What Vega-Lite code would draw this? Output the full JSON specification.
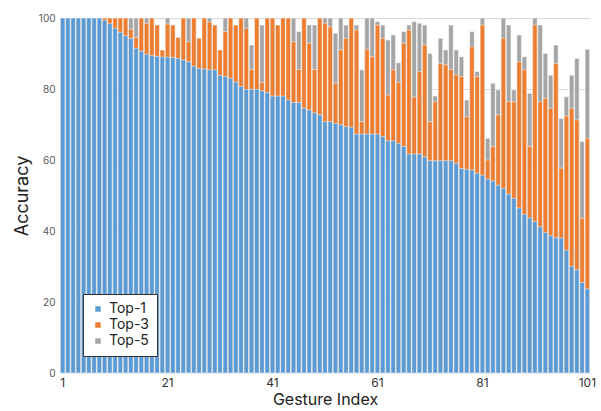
{
  "$schema": "https://vega.github.io/schema/vega-lite/v6.json",
  "width": 530,
  "height": 355,
  "autosize": {"type": "none"},
  "padding": {"left": 60, "top": 18, "right": 11, "bottom": 38},
  "background": "white",
  "config": {
    "font": "Inter",
    "view": {"stroke": null}
  },
  "datasets": {
    "top1": [
      {"g":1,"a":100},{"g":2,"a":100},{"g":3,"a":100},{"g":4,"a":100},{"g":5,"a":100},{"g":6,"a":100},{"g":7,"a":100},{"g":8,"a":100},
      {"g":9,"a":99.4},{"g":10,"a":98.4},{"g":11,"a":97.1},{"g":12,"a":96},{"g":13,"a":95},{"g":14,"a":94.2},{"g":15,"a":91.5},{"g":16,"a":90.6},
      {"g":17,"a":89.8},{"g":18,"a":89.4},{"g":19,"a":89.2},{"g":20,"a":89},{"g":21,"a":89},{"g":22,"a":88.9},{"g":23,"a":88.6},{"g":24,"a":88.2},
      {"g":25,"a":87.7},{"g":26,"a":86.4},{"g":27,"a":85.8},{"g":28,"a":85.6},{"g":29,"a":85.4},{"g":30,"a":85.4},{"g":31,"a":83.8},{"g":32,"a":83.5},
      {"g":33,"a":83},{"g":34,"a":82},{"g":35,"a":80.7},{"g":36,"a":79.9},{"g":37,"a":79.9},{"g":38,"a":79.9},{"g":39,"a":79.5},{"g":40,"a":79},
      {"g":41,"a":78},{"g":42,"a":78},{"g":43,"a":78},{"g":44,"a":76.9},{"g":45,"a":76.2},{"g":46,"a":76.2},{"g":47,"a":74.6},{"g":48,"a":74.1},
      {"g":49,"a":73.3},{"g":50,"a":72.7},{"g":51,"a":70.8},{"g":52,"a":70.8},{"g":53,"a":70.3},{"g":54,"a":69.9},{"g":55,"a":69.4},{"g":56,"a":69.2},
      {"g":57,"a":67.3},{"g":58,"a":67.3},{"g":59,"a":67.3},{"g":60,"a":67.3},{"g":61,"a":67.3},{"g":62,"a":66.6},{"g":63,"a":65.4},{"g":64,"a":65.4},
      {"g":65,"a":64.7},{"g":66,"a":63.8},{"g":67,"a":61.7},{"g":68,"a":61.7},{"g":69,"a":61.7},{"g":70,"a":60.9},{"g":71,"a":59.8},{"g":72,"a":59.8},
      {"g":73,"a":59.8},{"g":74,"a":59.8},{"g":75,"a":59.8},{"g":76,"a":59.1},{"g":77,"a":57.6},{"g":78,"a":57.4},{"g":79,"a":57.2},{"g":80,"a":56.3},
      {"g":81,"a":55.7},{"g":82,"a":54.6},{"g":83,"a":54.1},{"g":84,"a":52.9},{"g":85,"a":52},{"g":86,"a":50.4},{"g":87,"a":49.2},{"g":88,"a":46.5},
      {"g":89,"a":44.7},{"g":90,"a":43.7},{"g":91,"a":42.7},{"g":92,"a":41.2},{"g":93,"a":39.6},{"g":94,"a":38.7},{"g":95,"a":38.1},{"g":96,"a":38},
      {"g":97,"a":34.6},{"g":98,"a":30.1},{"g":99,"a":29.1},{"g":100,"a":25.5},{"g":101,"a":23.7}
    ],
    "top3": [
      {"g":1,"a":100},{"g":2,"a":100},{"g":3,"a":100},{"g":4,"a":100},{"g":5,"a":100},{"g":6,"a":100},{"g":7,"a":100},{"g":8,"a":100},
      {"g":9,"a":100},{"g":10,"a":100},{"g":11,"a":100},{"g":12,"a":100},{"g":13,"a":100},{"g":14,"a":96.8},{"g":15,"a":94.5},{"g":16,"a":100},
      {"g":17,"a":98.5},{"g":18,"a":100},{"g":19,"a":98},{"g":20,"a":91},{"g":21,"a":98.3},{"g":22,"a":98},{"g":23,"a":94.5},{"g":24,"a":100},
      {"g":25,"a":93.3},{"g":26,"a":100},{"g":27,"a":94.3},{"g":28,"a":100},{"g":29,"a":98.9},{"g":30,"a":98},{"g":31,"a":91},{"g":32,"a":96.2},
      {"g":33,"a":100},{"g":34,"a":98},{"g":35,"a":100},{"g":36,"a":97.1},{"g":37,"a":85.5},{"g":38,"a":100},{"g":39,"a":81.8},{"g":40,"a":100},
      {"g":41,"a":100},{"g":42,"a":98},{"g":43,"a":100},{"g":44,"a":100},{"g":45,"a":93.3},{"g":46,"a":85.5},{"g":47,"a":100},{"g":48,"a":92.9},
      {"g":49,"a":85.5},{"g":50,"a":100},{"g":51,"a":98.5},{"g":52,"a":97.5},{"g":53,"a":81.6},{"g":54,"a":91},{"g":55,"a":94.3},{"g":56,"a":100},
      {"g":57,"a":96.6},{"g":58,"a":70.8},{"g":59,"a":91.2},{"g":60,"a":89.1},{"g":61,"a":98},{"g":62,"a":94.3},{"g":63,"a":78.3},{"g":64,"a":85.4},
      {"g":65,"a":81.8},{"g":66,"a":92.9},{"g":67,"a":96.6},{"g":68,"a":77.7},{"g":69,"a":84.9},{"g":70,"a":92.4},{"g":71,"a":70.8},{"g":72,"a":76.4},
      {"g":73,"a":87.2},{"g":74,"a":86.8},{"g":75,"a":85.5},{"g":76,"a":84},{"g":77,"a":83.5},{"g":78,"a":72.2},{"g":79,"a":91.9},{"g":80,"a":83.5},
      {"g":81,"a":98},{"g":82,"a":60},{"g":83,"a":63.8},{"g":84,"a":72.7},{"g":85,"a":94.3},{"g":86,"a":76.4},{"g":87,"a":76.4},{"g":88,"a":87.7},
      {"g":89,"a":85.4},{"g":90,"a":63.8},{"g":91,"a":98},{"g":92,"a":76.4},{"g":93,"a":77.4},{"g":94,"a":74.6},{"g":95,"a":87.2},{"g":96,"a":57.7},
      {"g":97,"a":72.4},{"g":98,"a":74.6},{"g":99,"a":71.3},{"g":100,"a":43.6},{"g":101,"a":66.1}
    ],
    "top5": [
      {"g":1,"a":100},{"g":2,"a":100},{"g":3,"a":100},{"g":4,"a":100},{"g":5,"a":100},{"g":6,"a":100},{"g":7,"a":100},{"g":8,"a":100},
      {"g":9,"a":100},{"g":10,"a":100},{"g":11,"a":100},{"g":12,"a":100},{"g":13,"a":100},{"g":14,"a":100},{"g":15,"a":100},{"g":16,"a":100},
      {"g":17,"a":100},{"g":18,"a":100},{"g":19,"a":98},{"g":20,"a":91},{"g":21,"a":100},{"g":22,"a":98},{"g":23,"a":94.5},{"g":24,"a":100},
      {"g":25,"a":100},{"g":26,"a":100},{"g":27,"a":94.3},{"g":28,"a":100},{"g":29,"a":100},{"g":30,"a":98},{"g":31,"a":91},{"g":32,"a":100},
      {"g":33,"a":100},{"g":34,"a":98},{"g":35,"a":100},{"g":36,"a":100},{"g":37,"a":92.4},{"g":38,"a":100},{"g":39,"a":98},{"g":40,"a":100},
      {"g":41,"a":100},{"g":42,"a":98},{"g":43,"a":100},{"g":44,"a":100},{"g":45,"a":100},{"g":46,"a":96.2},{"g":47,"a":100},{"g":48,"a":98},
      {"g":49,"a":98},{"g":50,"a":100},{"g":51,"a":100},{"g":52,"a":100},{"g":53,"a":95.7},{"g":54,"a":100},{"g":55,"a":98},{"g":56,"a":100},
      {"g":57,"a":98},{"g":58,"a":85.4},{"g":59,"a":100},{"g":60,"a":100},{"g":61,"a":99},{"g":62,"a":98},{"g":63,"a":93.8},{"g":64,"a":95.2},
      {"g":65,"a":87.4},{"g":66,"a":96.2},{"g":67,"a":98},{"g":68,"a":99},{"g":69,"a":98.5},{"g":70,"a":98},{"g":71,"a":90},{"g":72,"a":78},
      {"g":73,"a":94.3},{"g":74,"a":91},{"g":75,"a":98},{"g":76,"a":91},{"g":77,"a":89.1},{"g":78,"a":76.9},{"g":79,"a":96.2},{"g":80,"a":84.9},
      {"g":81,"a":100},{"g":82,"a":66.1},{"g":83,"a":81.6},{"g":84,"a":79.7},{"g":85,"a":100},{"g":86,"a":98},{"g":87,"a":79.7},{"g":88,"a":95.2},
      {"g":89,"a":89.1},{"g":90,"a":78.8},{"g":91,"a":100},{"g":92,"a":98},{"g":93,"a":90},{"g":94,"a":83.9},{"g":95,"a":92.4},{"g":96,"a":71.7},
      {"g":97,"a":77.8},{"g":98,"a":83.9},{"g":99,"a":88.6},{"g":100,"a":65.2},{"g":101,"a":91.2}
    ]
  },
  "encoding": {
    "x": {
      "field": "g",
      "type": "ordinal",
      "sort": "ascending",
      "scale": {"paddingInner": 0.14, "paddingOuter": 0.07},
      "axis": {
        "values": [1, 21, 41, 61, 81, 101],
        "title": "Gesture Index",
        "labelAngle": 0,
        "labelFontSize": 12,
        "labelColor": "#333333",
        "labelPadding": 4,
        "ticks": false,
        "domain": true,
        "domainColor": "#d9d9d9",
        "titleFontSize": 16,
        "titleFontWeight": "normal",
        "titleColor": "#222222",
        "titlePadding": 3
      }
    },
    "y": {
      "field": "a",
      "type": "quantitative",
      "scale": {"domain": [0, 100], "nice": false},
      "axis": {
        "values": [0, 20, 40, 60, 80, 100],
        "title": "Accuracy",
        "grid": true,
        "gridColor": "#d9d9d9",
        "domain": false,
        "ticks": false,
        "labelFontSize": 10,
        "labelColor": "#595959",
        "labelPadding": 5,
        "titleFontSize": 18,
        "titleFontWeight": "normal",
        "titleColor": "#222222",
        "titlePadding": 7
      }
    }
  },
  "layer": [
    {
      "data": {"name": "top5"},
      "mark": {"type": "bar", "stroke": "white", "strokeWidth": 0.5},
      "encoding": {"color": {"datum": "Top-5"}}
    },
    {
      "data": {"name": "top3"},
      "mark": {"type": "bar", "stroke": "white", "strokeWidth": 0.5},
      "encoding": {"color": {"datum": "Top-3"}}
    },
    {
      "data": {"name": "top1"},
      "mark": {"type": "bar", "stroke": "white", "strokeWidth": 0.5},
      "encoding": {
        "color": {
          "datum": "Top-1",
          "scale": {"domain": ["Top-1", "Top-3", "Top-5"], "range": ["#5B9BD5", "#ED7D31", "#A5A5A5"]},
          "legend": {
            "title": null,
            "orient": "none",
            "legendX": 23,
            "legendY": 276,
            "symbolType": "square",
            "symbolSize": 30,
            "symbolStrokeWidth": 0,
            "labelFontSize": 14,
            "labelColor": "#222222",
            "rowPadding": 2,
            "padding": 8,
            "fillColor": "white",
            "strokeColor": "#333333"
          }
        }
      }
    }
  ]
}
